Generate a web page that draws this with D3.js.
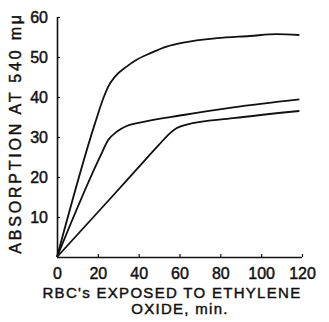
<!DOCTYPE html>
<html>
<head>
  <script src="https://d3js.org/d3.v7.min.js"></script>
  <style>
    body { margin: 0; background: #fff; }
    text { font-family: "Liberation Sans", Arial, sans-serif; fill: #111; stroke: #111; stroke-width: 0.45px; }
  </style>
</head>
<body>
<svg width="329" height="322"></svg>
<script>
  // time (min) vs absorption, three curves
  let topCurve = [[0, 0], [18.6, 33.4], [22.7, 39.7], [25.1, 42.6], [28.4, 45.1], [34.1, 47.6], [39, 49.3],
    [45.5, 50.9], [53.7, 52.6], [61.9, 53.6], [78.2, 54.7], [94.5, 55.25], [107.6, 55.7], [118.7, 55.5]];
  let midCurve = [[0, 0], [21.1, 25.1], [25.1, 29.25], [29.2, 31.3], [34.1, 32.75], [40.6, 33.6],
    [61.9, 35.5], [86.3, 37.4], [118.7, 39.4]];
  let lowCurve = [[0, 0], [26.8, 15], [39, 21.9], [50, 28.1], [55, 30.8], [58.5, 32.2], [63.5, 33.1],
    [86.3, 34.7], [118.7, 36.5]];
  let xTicks = [0, 20, 40, 60, 80, 100, 120];
  let yTicks = [10, 20, 30, 40, 50, 60];

  let svg = d3.select("svg");
  let x = d3.scaleLinear().domain([0, 120]).range([57, 302]);
  let y = d3.scaleLinear().domain([0, 60]).range([257, 17]);

  // axes
  let xa = svg.append("g").attr("transform", "translate(0,257)")
    .call(d3.axisBottom(x).tickValues(xTicks).tickSize(-3).tickPadding(11).tickFormat(d3.format("d")));
  let ya = svg.append("g").attr("transform", "translate(57,0)")
    .call(d3.axisLeft(y).tickValues(yTicks).tickSize(-3).tickPadding(9));
  [xa, ya].forEach(a => {
    a.select(".domain").attr("stroke", "#111").attr("stroke-width", 1.6);
    a.selectAll(".tick line").attr("stroke", "#111").attr("stroke-width", 1.2);
    a.selectAll("text").style("font-size", "16px").attr("fill", "#111");
  });
  xa.select(".domain").attr("d", `M${x(0)},0.5H${x(120)}`);
  ya.select(".domain").attr("d", `M0.5,${y(0)}V${y(60)}`);
  xa.selectAll(".tick").filter(d => d == 0).select("line").remove();

  // curves
  let line = d3.line().x(d => x(d[0])).y(d => y(d[1])).curve(d3.curveMonotoneX);
  [topCurve, midCurve, lowCurve].forEach(c => {
    svg.append("path").datum(c).attr("d", line)
      .attr("fill", "none").attr("stroke", "#111").attr("stroke-width", 1.8);
  });

  // titles
  svg.append("text")
    .attr("transform", "translate(21,133)rotate(-90)")
    .attr("text-anchor", "middle")
    .style("font-size", "16px").style("letter-spacing", "2.8px")
    .text("ABSORPTION AT 540 mμ");
  svg.append("text").attr("x", 172).attr("y", 298).attr("text-anchor", "middle")
    .style("font-size", "15px").style("letter-spacing", "1.3px")
    .text("RBC's EXPOSED TO ETHYLENE");
  svg.append("text").attr("x", 180).attr("y", 314).attr("text-anchor", "middle")
    .style("font-size", "15px").style("letter-spacing", "1.3px")
    .text("OXIDE, min.");
</script>
</body>
</html>
